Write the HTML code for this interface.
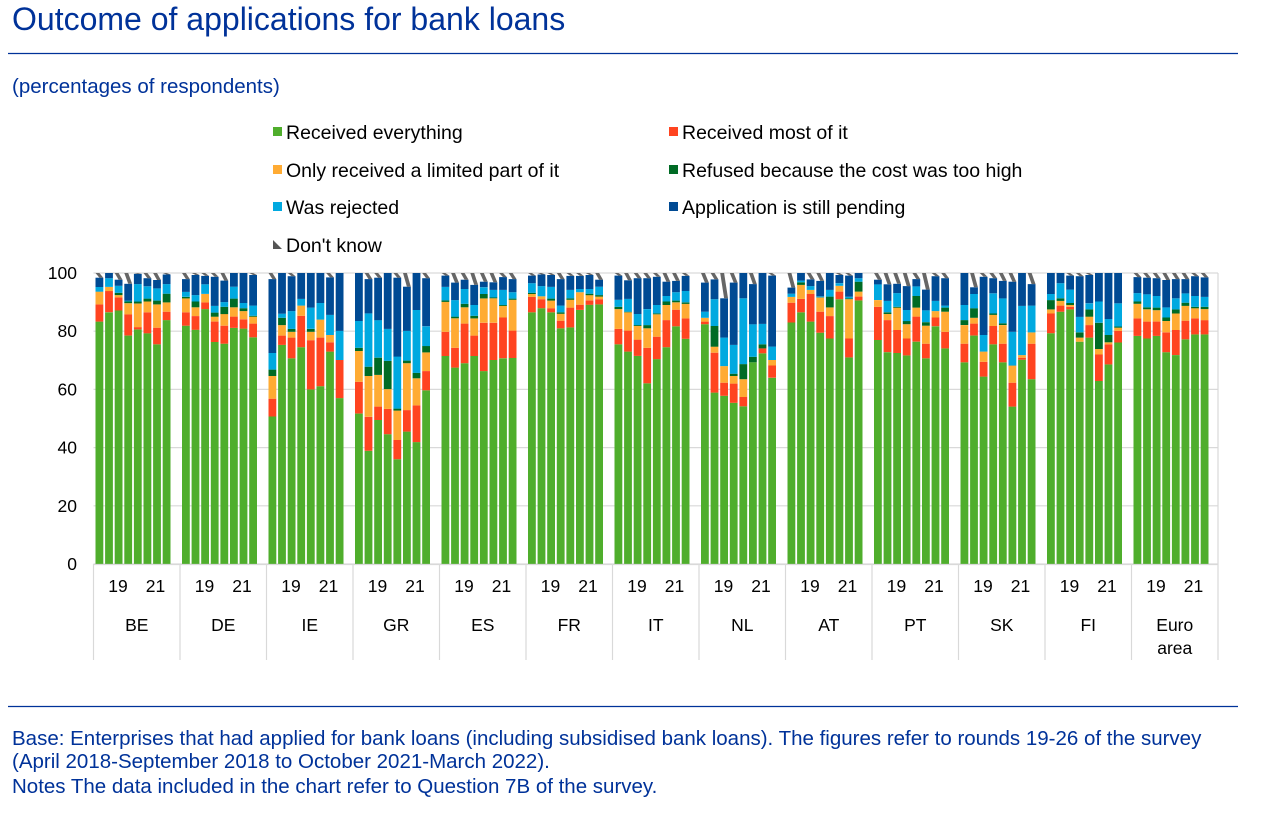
<!DOCTYPE html>
<html><head><meta charset="utf-8"><style>
body{margin:0;background:#fff;width:1268px;height:817px;overflow:hidden;font-family:"Liberation Sans",Arial,sans-serif}
</style></head><body>
<svg id="s" width="1268" height="817" xmlns="http://www.w3.org/2000/svg" font-family="Liberation Sans, Arial, sans-serif">
<text x="12" y="30" font-size="32" fill="#003299">Outcome of applications for bank loans</text>
<line x1="8" y1="53.5" x2="1238" y2="53.5" stroke="#003299" stroke-width="1.3"/>
<text x="12" y="93" font-size="20.5" fill="#003299">(percentages of respondents)</text>
<g font-size="19.5" fill="#000">
<rect x="273" y="127" width="9" height="9" fill="#4fae2c"/><text x="286" y="139">Received everything</text>
<rect x="669" y="127" width="9" height="9" fill="#ff4420"/><text x="682" y="139">Received most of it</text>
<rect x="273" y="165" width="9" height="9" fill="#ffab33"/><text x="286" y="177">Only received a limited part of it</text>
<rect x="669" y="165" width="9" height="9" fill="#006b25"/><text x="682" y="177">Refused because the cost was too high</text>
<rect x="273" y="202" width="9" height="9" fill="#00a9e0"/><text x="286" y="214">Was rejected</text>
<rect x="669" y="202" width="9" height="9" fill="#004a93"/><text x="682" y="214">Application is still pending</text>
<polygon points="273,240 282,249 273,249" fill="#555"/><text x="286" y="252">Don't know</text>
</g>
<line x1="8" y1="706.5" x2="1238" y2="706.5" stroke="#003299" stroke-width="1.3"/>
<g font-size="20.5" fill="#003299">
<text x="12" y="745">Base: Enterprises that had applied for bank loans (including subsidised bank loans). The figures refer to rounds 19-26 of the survey</text>
<text x="12" y="768">(April 2018-September 2018 to October 2021-March 2022).</text>
<text x="12" y="793">Notes The data included in the chart refer to Question 7B of the survey.</text>
</g>
<g id="c"></g>
</svg>
<script>
var D={BE:[[83.3,89.2,93.6,93.6,95.2,98.4],[86.5,93.8,95.2,95.2,98.2,100],[87.1,91.6,92.4,93.2,95.6,97.7],[78.5,85.8,89.6,90.2,90.5,96.3],[80.6,81.4,89.5,90.2,96.2,99.7],[79.3,86.5,90.2,91.2,95.4,98.2],[75.5,81.2,89.2,90.5,94.7,97.6],[83.8,86.7,89.9,92.9,96.2,99.5]],
DE:[[81.9,86.5,91.3,91.8,93.5,97.9],[80.5,85.2,88.2,90.2,92.4,99.3],[87.6,89.9,92.8,92.8,96.1,99],[76.3,83.3,85,86.4,88.7,98.7],[75.7,81.9,85.9,88.4,90,97.4],[81.1,85,88.2,91.2,95.3,100],[80.9,84.1,86.9,87.9,89.7,100],[77.9,82.6,85,85.3,88.8,99.3]],
IE:[[50.7,56.8,64.6,66.8,72.5,97.9],[75.3,78.5,82.1,84.6,86,100],[70.7,77.8,79.8,80.8,86.9,98.9],[74.5,85.3,88.8,88.8,91.1,100],[60,76.9,79.8,80.8,88.1,100],[61.1,77.8,84,84,89.7,100],[73,76.2,78.7,78.7,85.6,98.5],[57,70.1,70.1,70.1,80.1,100]],
GR:[[51.7,62.6,73.2,74.3,83.5,100],[38.9,50.6,64.6,67.8,86.1,97.9],[49.5,54.1,65,70.9,83.8,98.4],[44.6,53.3,60.1,69.8,80.8,100],[36,42.6,52.7,53.4,71.3,98.4],[45.5,52.9,69,69.9,80.1,95.3],[41.9,54.5,63.8,65.7,87.3,100],[59.7,66.3,72.7,74.9,81.7,98.2]],
ES:[[71.5,79.8,90.1,90.6,95.2,99.1],[67.5,74.3,84.4,85,90.7,96.7],[69,82.6,88.2,89.4,94.5,97.7],[71.5,78.5,84.4,85.3,89,95.9],[66.3,82.9,91.3,92.8,95.1,97],[70.1,82.9,91.3,91.6,94.2,96.8],[70.7,84.7,88.7,89,94.2,98.6],[70.8,80.2,90.8,91.2,93.4,97.9]],
FR:[[86.5,91.8,92.8,93.2,96.5,99.1],[87.9,91,92,92,95.5,99.5],[86.5,87.9,90.5,91.2,95.2,99.3],[81,83.6,86,86.5,88.8,97.9],[81.3,88.1,90.8,91.3,94.2,99],[87.3,89.1,93.4,93.4,94.5,99],[89.1,90.6,92.4,92.9,94.5,99.3],[89.2,91,91.9,92.4,95.3,97.7]],
IT:[[75.5,80.8,87.6,88.4,90.8,99.1],[73,80.2,86.5,86.7,91.1,97.5],[71.5,77.1,81.8,82.1,85.9,98.2],[62.1,74.3,81,82.1,87.6,98.2],[70.4,78.1,85.8,86.1,89,98.7],[74.5,83.8,89,90.2,92.1,97],[81.7,87.4,89.9,90.5,93.4,97.3],[77.4,84.4,89.4,89.9,93.8,99]],
NL:[[82.4,83.3,84.6,84.6,86.7,96.7],[58.9,72.6,74.7,81.8,91,97.8],[57.8,62.3,68,68,77.8,91.3],[55.4,62,64.6,65.4,75.3,96.7],[54.2,57.4,63.5,68.7,91.3,100],[69.3,69.3,69.3,71.2,82.4,96.2],[72.4,74.1,74.1,75.5,82.5,100],[64,68.2,70.1,70.1,74.7,99.1]],
AT:[[83,89.8,91.8,91.8,92.9,95],[86.5,91.1,95.9,96.8,97.4,100],[83.3,92.8,94.2,94.2,95.5,97.8],[79.5,86.7,91.6,91.6,92,97.3],[77.5,85.2,88.2,91.9,94.2,100],[91,93.6,95.6,95.6,96.5,99.3],[71,77.5,91,91.3,91.8,99.1],[90.6,91.9,93.6,97,98.2,100]],
PT:[[77,88.4,90.7,90.7,96.1,97.7],[72.8,83.8,85.9,86.5,90.4,96.1],[72.5,80.4,88.1,88.4,93.1,96.3],[71.7,77.5,82.4,83.5,87.3,95.5],[76.4,85,88.1,92.1,95.4,97.9],[70.7,75.7,81.9,83.1,87.2,94.3],[81.7,84.7,86.9,86.9,90.4,98.9],[74.1,79.8,86.7,88.1,88.8,98.2]],
SK:[[69.3,75.7,82.1,83.8,89,100],[78.5,82.6,84.6,87.9,92.8,95.1],[64.4,69.5,73,73,78.7,98.7],[75.5,81.8,85.6,86.1,93,98.2],[69.3,75.7,82.1,82.7,91.3,97.3],[54.1,62.3,68.2,68.2,79.8,97],[70.2,70.9,71.8,71.8,88.7,100],[63.5,75.7,79.6,79.6,88.8,96.2]],
FI:[[79.3,86.1,87.5,90.7,92.8,100],[86.7,88.8,90.4,91.3,96.5,100],[87.5,88.4,89,89.7,94.3,99.1],[76.4,76.4,77.8,79.6,84.9,98.9],[77.8,82.1,85,87.5,89.6,99.3],[62.9,72,73.9,82.9,90.2,100],[68.6,75.5,76.2,78.7,84.2,100],[76.1,80.1,81.2,81.6,89.6,100]],
EA:[[78.4,84.4,89.4,90.2,93.1,98.6],[77.5,83.3,87.5,88.2,92.7,98.4],[78.4,83.3,87.2,88.1,92.1,98.2],[72.8,79.6,83.5,84.7,88.2,97.6],[71.8,80.4,86.1,87.5,91.3,97.9],[77.2,83.6,88.7,89.8,93,97.9],[78.9,84.4,87.9,88.4,92.1,98.9],[78.9,83.8,87.6,88.4,91.8,98.5]]};
var cols=["#4fae2c","#ff4420","#ffab33","#006b25","#00a9e0","#004a93"];
var keys=["BE","DE","IE","GR","ES","FR","IT","NL","AT","PT","SK","FI","EA"];
var x0=93.5,x1=1218,gw=(x1-x0)/13,y0=564,ys=2.91,h='';
function Y(p){return y0-p*ys}
for(var v=0;v<=100;v+=20){h+='<line x1="'+x0+'" x2="'+x1+'" y1="'+Y(v)+'" y2="'+Y(v)+'" stroke="#d9d9d9" stroke-width="1.2"/>';
h+='<text x="77" y="'+(Y(v)+6)+'" font-size="17.5" text-anchor="end">'+v+'</text>';}
h+='<line x1="'+x1+'" x2="'+x1+'" y1="'+Y(100)+'" y2="564" stroke="#d9d9d9" stroke-width="1.2"/>';
keys.forEach(function(k,g){var gx=x0+g*gw;
D[k].forEach(function(b,i){var bx=gx+2+i*9.6,w=7.8,prev=0;
b.forEach(function(t,j){if(t>prev){h+='<rect x="'+bx.toFixed(1)+'" y="'+Y(t).toFixed(1)+'" width="'+w+'" height="'+((t-prev)*ys).toFixed(1)+'" fill="'+cols[j]+'"/>';prev=t;}});
if(prev<100){var top=Y(100),bt=Y(prev);h+='<polygon points="'+bx.toFixed(1)+','+top+' '+(bx+w*0.5).toFixed(1)+','+top+' '+(bx+w).toFixed(1)+','+bt.toFixed(1)+' '+(bx+w*0.5).toFixed(1)+','+bt.toFixed(1)+'" fill="#666"/>';}
});
h+='<line x1="'+gx+'" x2="'+gx+'" y1="564" y2="660" stroke="#d9d9d9" stroke-width="1.2"/>';
h+='<text x="'+(gx+24.5)+'" y="592" font-size="17.5" text-anchor="middle">19</text><text x="'+(gx+62)+'" y="592" font-size="17.5" text-anchor="middle">21</text>';
if(k=="EA"){h+='<text x="'+(gx+gw/2)+'" y="631" font-size="17.5" text-anchor="middle">Euro</text><text x="'+(gx+gw/2)+'" y="654" font-size="17.5" text-anchor="middle">area</text>';}
else h+='<text x="'+(gx+gw/2)+'" y="631" font-size="17.5" text-anchor="middle">'+k+'</text>';
});
h+='<line x1="'+x1+'" x2="'+x1+'" y1="564" y2="660" stroke="#d9d9d9" stroke-width="1.2"/>';
h+='<line x1="'+x0+'" x2="'+x1+'" y1="564.5" y2="564.5" stroke="#d9d9d9" stroke-width="1.2"/>';
document.getElementById('c').innerHTML=h;
</script>
</body></html>
